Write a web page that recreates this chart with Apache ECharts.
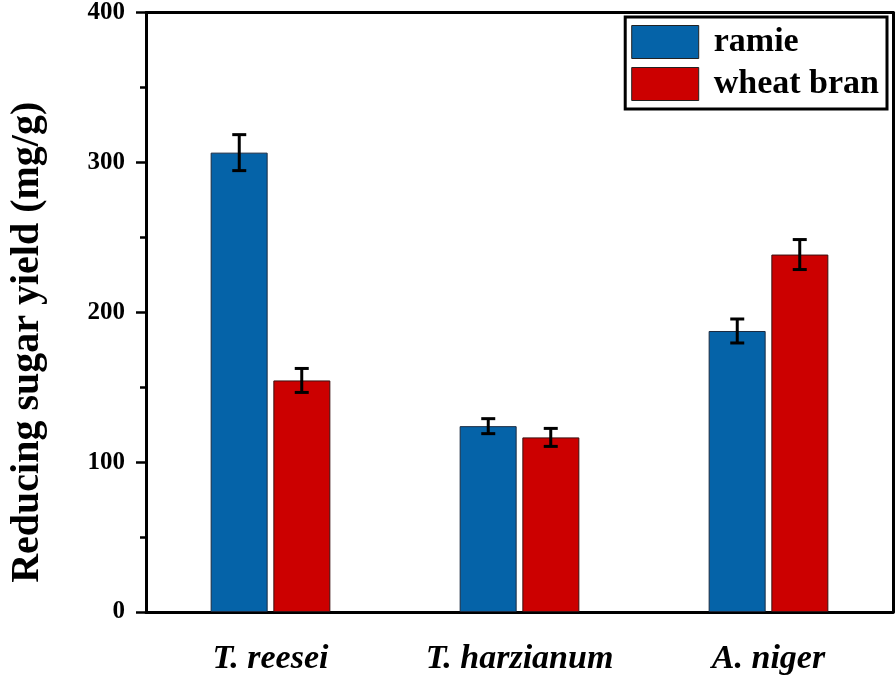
<!DOCTYPE html>
<html><head><meta charset="utf-8">
<script src="https://cdn.jsdelivr.net/npm/echarts@6/dist/echarts.min.js"></script>
<style>html,body{margin:0;padding:0;background:#fff}#c{width:896px;height:680px}</style>
</head><body><div id="c"></div>
<script>
const categories = ['T. reesei', 'T. harzianum', 'A. niger'];
const ramie = [306.5, 124, 187.5];
const ramieErr = [12, 5, 8];
const wheatBran = [154.5, 116.5, 238.5];
const wheatBranErr = [8, 6, 10];
const yTicks = [0, 100, 200, 300, 400];

const FONT = '"Liberation Serif","Times New Roman",serif';
const BAR_W = 57, GAP = 5.5;
const chart = echarts.init(document.getElementById('c'));

function errSeries(name, vals, errs, side) {
  return {
    type: 'custom', name: name + ' err', silent: true, z: 10,
    data: vals.map((v, i) => [i, v, errs[i]]),
    renderItem: function (params, api) {
      const i = api.value(0), v = api.value(1), e = api.value(2);
      const top = api.coord([i, v + e]);
      const bot = api.coord([i, v - e]);
      const x = top[0] + side * (BAR_W + GAP) / 2;
      const cap = 7;
      const st = { stroke: '#000', lineWidth: 3 };
      return { type: 'group', children: [
        { type: 'line', shape: { x1: x, y1: top[1], x2: x, y2: bot[1] }, style: st },
        { type: 'line', shape: { x1: x - cap, y1: top[1], x2: x + cap, y2: top[1] }, style: st },
        { type: 'line', shape: { x1: x - cap, y1: bot[1], x2: x + cap, y2: bot[1] }, style: st }
      ]};
    }
  };
}

chart.setOption({
  animation: false,
  grid: { left: 145, right: 3, top: 12, bottom: 68 },
  legend: {
    data: ['ramie', 'wheat bran'], orient: 'vertical', right: 9, top: 17,
    icon: 'rect',
    itemWidth: 67, itemHeight: 33, itemGap: 8,
    borderColor: '#000', borderWidth: 3, padding: [8, 8, 8, 6],
    textStyle: { fontFamily: FONT, fontWeight: 'bold', fontSize: 34, color: '#000', padding: [0, 0, 0, 10] },
    itemStyle: { borderColor: '#222', borderWidth: 1 }
  },
  xAxis: [{
    type: 'category', data: categories, position: 'bottom',
    axisLine: { lineStyle: { color: '#000', width: 3 } },
    axisTick: { alignWithLabel: true, inside: false, length: 10, lineStyle: { width: 2.5, color: '#000' } },
    axisLabel: { fontFamily: FONT, fontStyle: 'italic', fontWeight: 'bold', fontSize: 34, color: '#000', margin: 30 }
  }, {
    type: 'category', data: categories, position: 'top',
    axisLine: { show: true, onZero: false, lineStyle: { color: '#000', width: 3 } },
    axisTick: { show: false }, axisLabel: { show: false }
  }],
  yAxis: [{
    type: 'value', min: 0, max: 400, interval: 100,
    name: 'Reducing sugar yield (mg/g)', nameLocation: 'middle', nameGap: 98,
    nameTextStyle: { fontFamily: FONT, fontWeight: 'bold', fontSize: 40, color: '#000', padding: [0, 60, 0, 0] },
    axisLine: { show: true, lineStyle: { color: '#000', width: 3 } },
    axisTick: { show: true, length: 10, lineStyle: { width: 2.5, color: '#000' } },
    minorTick: { show: true, splitNumber: 2, length: 6, lineStyle: { width: 2.5, color: '#000' } },
    splitLine: { show: false },
    axisLabel: { fontFamily: FONT, fontWeight: 'bold', fontSize: 25, color: '#000', margin: 21,
      formatter: v => yTicks.includes(v) ? String(v) : '' }
  }, {
    type: 'value', min: 0, max: 400, interval: 100, position: 'right',
    axisLine: { show: true, lineStyle: { color: '#000', width: 3 } },
    axisTick: { show: false }, axisLabel: { show: false }, splitLine: { show: false }
  }],
  series: [
    { name: 'ramie', type: 'bar', data: ramie, barWidth: BAR_W, barGap: '10%',
      itemStyle: { color: '#0563A8', borderColor: '#1a2a40', borderWidth: 1 } },
    { name: 'wheat bran', type: 'bar', data: wheatBran, barWidth: BAR_W, barGap: '10%',
      itemStyle: { color: '#CC0000', borderColor: '#3a1010', borderWidth: 1 } },
    errSeries('ramie', ramie, ramieErr, -1),
    errSeries('wheat bran', wheatBran, wheatBranErr, 1)
  ]
});
</script></body></html>
